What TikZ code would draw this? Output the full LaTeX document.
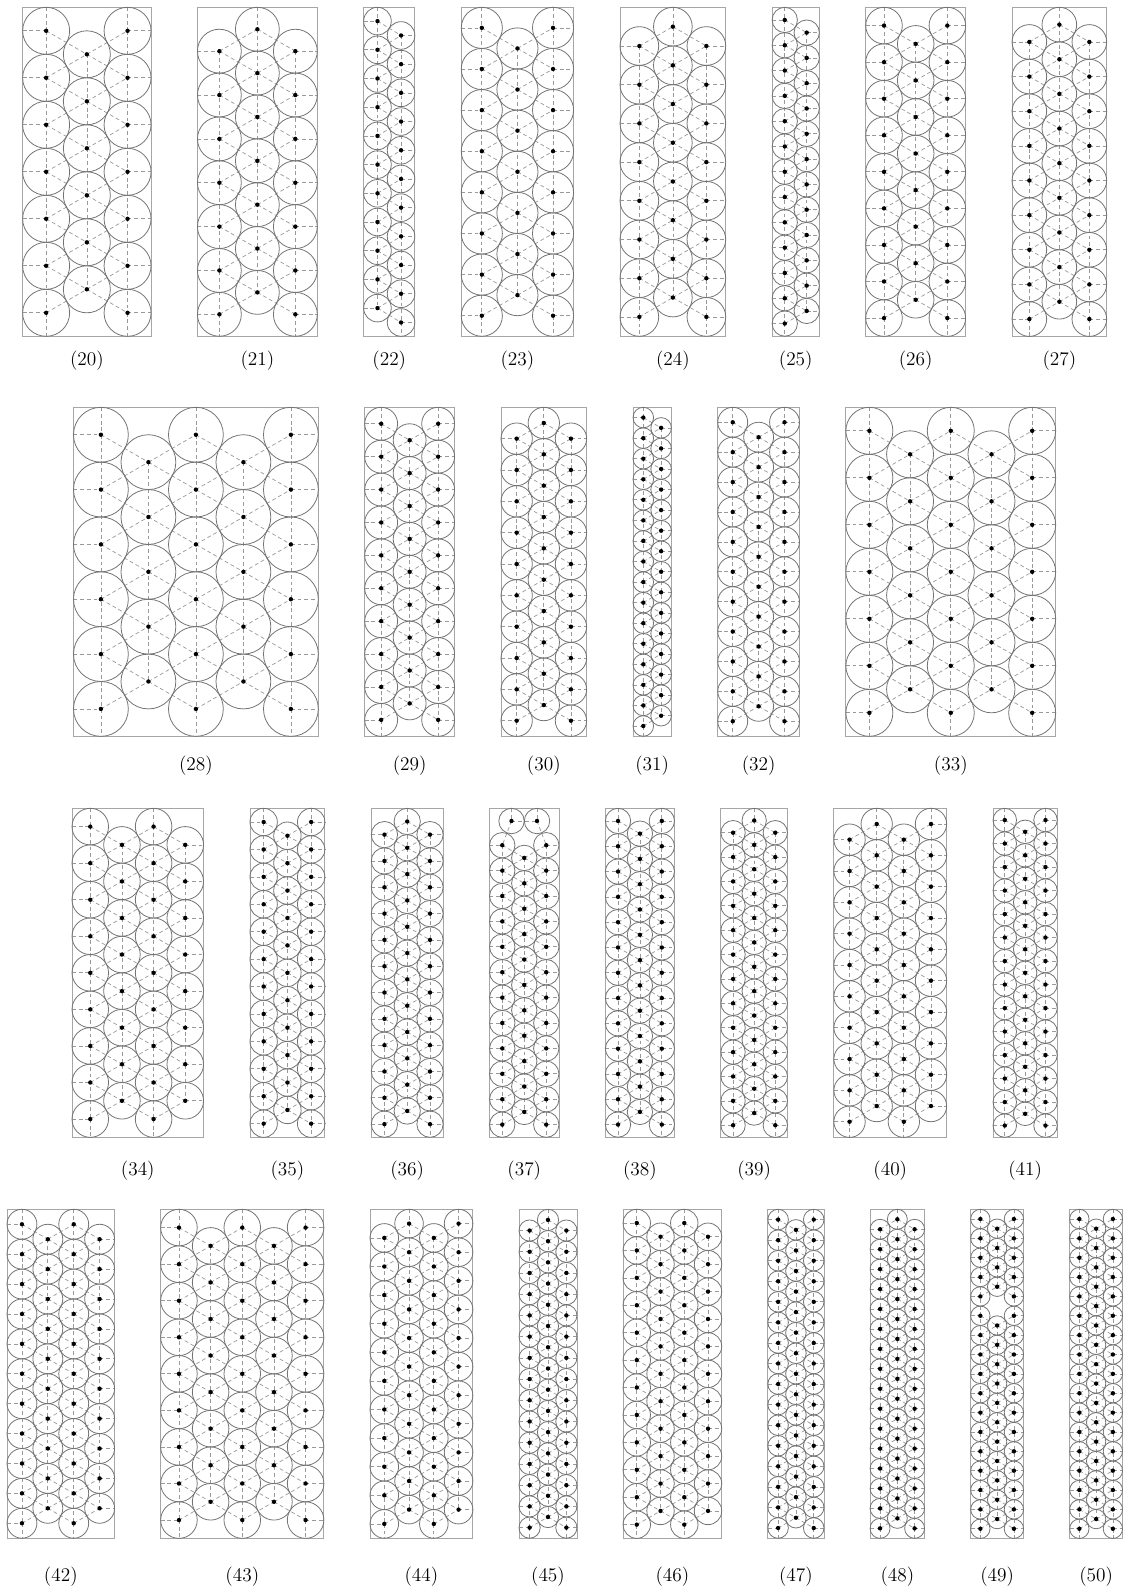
\documentclass[tikz,border=0pt]{standalone}

\tikzset{
	wall/.style={draw=black!35, line width=0.5pt},
	disk/.style={draw=black!55, line width=0.45pt},
	contact/.style={draw=black!40, line width=0.4pt, dash pattern=on 2.2pt off 1.6pt},
	centre/.style={fill=black},
	lab/.style={font=\fontsize{11}{13}\selectfont, inner sep=0pt},
}

% #1 label, #2 radius, #3 vertical spacing, #4 column gaps, #5 top, #6 label y, #7 columns c/t/n
\newcommand\packing[7]{%
	\pgfmathsetmacro\Rad{#2}%
	\pgfmathsetmacro\Spc{#3}%
	\pgfmathsetmacro\Dx{sqrt(4*\Rad*\Rad-\Spc*\Spc/4)}%
	\pgfmathsetmacro\Xa{\curx}%
	\pgfmathsetmacro\Xb{\Xa+2*\Rad+#4*\Dx}%
	\pgfmathsetmacro\Ya{#5}%
	\pgfmathsetmacro\Yb{#5+329}%
	\draw[wall] (\Xa,\Ya) rectangle (\Xb,\Yb);
	\node[lab] (l#1) at ({(\Xa+\Xb)/2},#6) {(#1)};
	%contacts between columns
	\foreach \Ac/\At/\An [count=\iA] in {#7}{
		\foreach \Bc/\Bt/\Bn [count=\iB] in {#7}{
			\ifnum\iB>\iA
			\pgfmathtruncatemacro\Near{abs(\Bc-\Ac)*\Dx<=2.3*\Rad}
			\ifnum\Near=1
			\pgfmathsetmacro\XA{\Xa+\Rad+\Ac*\Dx}
			\pgfmathsetmacro\XB{\Xa+\Rad+\Bc*\Dx}
			\foreach \iP in {1,...,\An}{
				\pgfmathtruncatemacro\Qlo{max(1,floor(\iP+\At-\Bt)-1)}
				\pgfmathtruncatemacro\Qhi{min(\Bn,ceil(\iP+\At-\Bt)+1)}
				\ifnum\Qlo>\Qhi\else
				\foreach \iQ in {\Qlo,...,\Qhi}{
					\pgfmathsetmacro\YA{\Ya+\Rad+(\At+\iP-1)*\Spc}
					\pgfmathsetmacro\YB{\Ya+\Rad+(\Bt+\iQ-1)*\Spc}
					\pgfmathtruncatemacro\Hit{veclen(\XB-\XA,\YB-\YA)<=2.3*\Rad}
					\ifnum\Hit=1 \draw[contact] (\XA,\YA) -- (\XB,\YB); \fi
				}
				\fi
			}
			\fi
			\fi
		}
	}
	%columns, walls, circles
	\foreach \Cc/\Ct/\Cn in {#7}{
		\pgfmathsetmacro\XC{\Xa+\Rad+\Cc*\Dx}
		\pgfmathsetmacro\YF{\Ya+\Rad+\Ct*\Spc}
		\pgfmathsetmacro\YL{\YF+(\Cn-1)*\Spc}
		\pgfmathtruncatemacro\Tch{\Spc<=2.3*\Rad}
		\ifnum\Cn>1 \ifnum\Tch=1 \draw[contact] (\XC,\YF) -- (\XC,\YL); \fi\fi
		\pgfmathtruncatemacro\Tch{\YF-\Ya<=1.15*\Rad}
		\ifnum\Tch=1 \draw[contact] (\XC,\Ya) -- (\XC,\YF); \fi
		\pgfmathtruncatemacro\Tch{\Yb-\YL<=1.15*\Rad}
		\ifnum\Tch=1 \draw[contact] (\XC,\YL) -- (\XC,\Yb); \fi
		\pgfmathtruncatemacro\Lw{\XC-\Xa<=1.15*\Rad}
		\pgfmathtruncatemacro\Rw{\Xb-\XC<=1.15*\Rad}
		\foreach \iK in {1,...,\Cn}{
			\pgfmathsetmacro\YK{\YF+(\iK-1)*\Spc}
			\ifnum\Lw=1 \draw[contact] (\Xa,\YK) -- (\XC,\YK); \fi
			\ifnum\Rw=1 \draw[contact] (\XC,\YK) -- (\Xb,\YK); \fi
			\draw[disk] (\XC,\YK) circle (\Rad);
			\fill[centre] (\XC,\YK) circle (2.2);
		}
	}
	\pgfmathsetmacro\Nx{\Xb+\gapx}\global\let\curx\Nx
}

\begin{document}
\begin{tikzpicture}[x=0.02cm,y=-0.02cm]
	\useasboundingbox (0,0) rectangle (1125,1587);
	
	%========
	%Row 1
	%========
	\xdef\curx{22.65}\xdef\gapx{46.4}
	\packing{20}{23.5}{47}{2}{7.3}{361}{0/0/7, 1/0.5/6, 2/0/7}
	\packing{21}{21.93}{43.86}{2}{7.3}{361}{0/0.5/7, 1/0/7, 2/0.5/7}
	\packing{22}{13.8}{28.70}{1}{7.3}{361}{0/0/11, 1/0.5/11}
	\packing{23}{20.56}{41.12}{2}{7.3}{361}{0/0/8, 1/0.5/7, 2/0/8}
	\packing{24}{19.35}{38.7}{2}{7.3}{361}{0/0.5/8, 1/0/8, 2/0.5/8}
	\packing{25}{12.65}{25.3}{1}{7.3}{361}{0/0/13, 1/0.5/12}
	\packing{26}{18.28}{36.56}{2}{7.3}{361}{0/0/9, 1/0.5/8, 2/0/9}
	\packing{27}{17.32}{34.64}{2}{7.3}{361}{0/0.5/9, 1/0/9, 2/0.5/9}
	
	%========
	%Row 2
	%========
	\xdef\curx{73.5}\xdef\gapx{46.4}
	\packing{28}{27.42}{54.84}{4}{407.3}{766}{0/0/6, 1/0.5/5, 2/0/6, 3/0.5/5, 4/0/6}
	\packing{29}{16.45}{32.9}{2}{407.3}{766}{0/0/10, 1/0.5/9, 2/0/10}
	\packing{30}{15.67}{31.34}{2}{407.3}{766}{0/0.5/10, 1/0/10, 2/0.5/10}
	\packing{31}{10.28}{20.56}{1}{407.3}{766}{0/0/16, 1/0.5/15}
	\packing{32}{14.95}{29.9}{2}{407.3}{766}{0/0/11, 1/0.5/10, 2/0/11}
	\packing{33}{23.5}{47}{4}{407.3}{766}{0/0/7, 1/0.5/6, 2/0/7, 3/0.5/6, 4/0/7}
	
	%========
	%Row 3
	%========
	\xdef\curx{72}\xdef\gapx{46.4}
	\packing{34}{18.28}{36.56}{3}{808.3}{1171}{0/0/9, 1/0.5/8, 2/0/9, 3/0.5/8}
	\packing{35}{13.71}{27.42}{2}{808.3}{1171}{0/0/12, 1/0.5/11, 2/0/12}
	\packing{36}{13.16}{26.32}{2}{808.3}{1171}{0/0.5/12, 1/0/12, 2/0.5/12}
	\packing{37}{12.7}{25.4}{2}{808.3}{1171}{0.42/0/1, 1.58/0/1, 0/0.953/12, 1/1.453/11, 2/0.953/12}
	\packing{38}{12.65}{25.3}{2}{808.3}{1171}{0/0/13, 1/0.5/12, 2/0/13}
	\packing{39}{12.19}{24.38}{2}{808.3}{1171}{0/0.5/13, 1/0/13, 2/0.5/13}
	\packing{40}{15.67}{31.34}{3}{808.3}{1171}{0/0.5/10, 1/0/10, 2/0.5/10, 3/0/10}
	\packing{41}{11.75}{23.5}{2}{808.3}{1171}{0/0/14, 1/0.5/13, 2/0/14}
	
	%========
	%Row 4
	%========
	\xdef\curx{7}\xdef\gapx{46.1}
	\packing{42}{14.95}{29.9}{3}{1209.3}{1577}{0/0/11, 1/0.5/10, 2/0/11, 3/0.5/10}
	\packing{43}{18.28}{36.56}{4}{1209.3}{1577}{0/0/9, 1/0.5/8, 2/0/9, 3/0.5/8, 4/0/9}
	\packing{44}{14.30}{28.6}{3}{1209.3}{1577}{0/0.5/11, 1/0/11, 2/0.5/11, 3/0/11}
	\packing{45}{10.61}{21.22}{2}{1209.3}{1577}{0/0.5/15, 1/0/15, 2/0.5/15}
	\packing{46}{13.71}{27.42}{3}{1209.3}{1577}{0/0/12, 1/0.5/11, 2/0/12, 3/0.5/11}
	\packing{47}{10.28}{20.56}{2}{1209.3}{1577}{0/0/16, 1/0.5/15, 2/0/16}
	\packing{48}{9.97}{19.94}{2}{1209.3}{1577}{0/0.5/16, 1/0/16, 2/0.5/16}
	\packing{49}{9.68}{19.36}{2}{1209.3}{1577}{0/0/17, 1/0.5/4, 1/5.5/11, 2/0/17}
	\packing{50}{9.68}{19.36}{2}{1209.3}{1577}{0/0/17, 1/0.5/16, 2/0/17}
\end{tikzpicture}
\end{document}
